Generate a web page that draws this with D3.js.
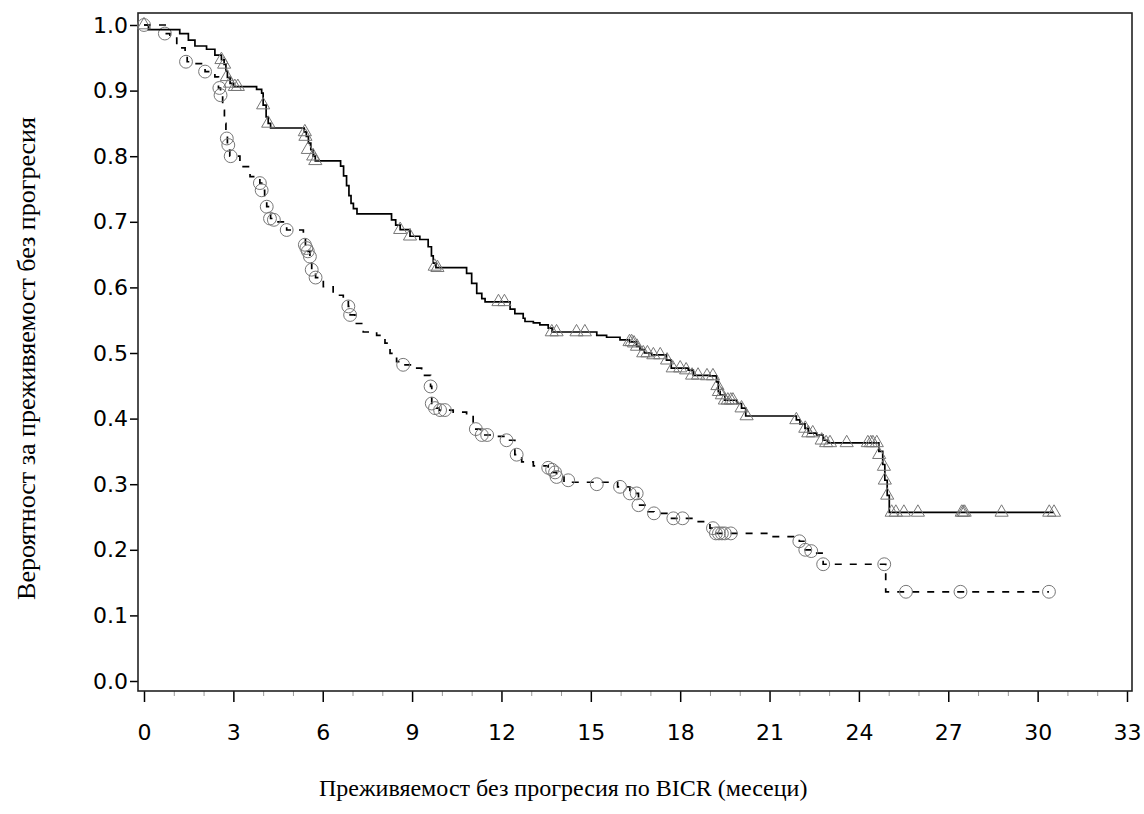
<!DOCTYPE html>
<html>
<head>
<meta charset="utf-8">
<script src="https://cdn.jsdelivr.net/npm/d3@7"></script>
<style>
  body { margin: 0; background: #fff; }
  svg { display: block; }
  .tick text { font-family: "DejaVu Sans", sans-serif; font-size: 22px; fill: #000; }
  .axis-title { font-family: "Liberation Serif", "Times New Roman", serif; fill: #000; }
</style>
</head>
<body>
<svg id="chart" width="1144" height="814"></svg>
<script>
// Kaplan-Meier steps (months, survival after step)
const armATimes = [0, 0.15, 1.2, 1.49, 1.71, 2.1, 2.38, 2.6, 2.69, 2.75, 2.8, 2.89, 3.0, 3.78, 3.95, 4.0, 4.1, 4.17, 4.25,
  5.38, 5.45, 5.52, 5.6, 5.68, 5.75, 6.6, 6.7, 6.8, 6.88, 6.95, 7.03, 7.15, 8.31, 8.45, 8.6, 8.93, 9.26, 9.54, 9.65, 9.71, 9.8,
  10.83, 11.0, 11.17, 11.34, 11.45, 12.29, 12.45, 12.73, 12.79, 13.07, 13.29, 13.57, 13.7, 15.2, 15.53, 15.98, 16.3, 16.54,
  16.65, 16.8, 17.04, 17.54, 17.7, 18.27, 18.44, 19.0, 19.22, 19.28, 19.34, 19.5, 19.9, 20.06, 20.2, 21.9, 22.02, 22.19, 22.3,
  22.58, 22.8, 22.95, 24.67, 24.8, 24.87, 24.95, 25.02, 30.55];
const armASurv = [1.0, 0.993, 0.987, 0.977, 0.968, 0.963, 0.954, 0.947, 0.94, 0.93, 0.92, 0.911, 0.906, 0.902, 0.896, 0.878, 0.86, 0.85, 0.843,
  0.837, 0.83, 0.82, 0.81, 0.80, 0.793, 0.785, 0.77, 0.755, 0.74, 0.728, 0.72, 0.712, 0.703, 0.695, 0.688, 0.678, 0.673, 0.662, 0.648, 0.637, 0.63,
  0.6215, 0.606, 0.591, 0.583, 0.578, 0.567, 0.56, 0.553, 0.548, 0.546, 0.543, 0.538, 0.532, 0.527, 0.524, 0.52, 0.517, 0.51,
  0.505, 0.5, 0.497, 0.489, 0.477, 0.474, 0.466, 0.465, 0.456, 0.441, 0.436, 0.428, 0.423, 0.416, 0.404, 0.398, 0.392, 0.385, 0.378,
  0.375, 0.367, 0.363, 0.35, 0.33, 0.306, 0.283, 0.257, 0.257];
const armACensT = [0, 2.6, 2.69, 2.78, 2.89, 3.05, 3.15, 4.0, 4.17, 5.4, 5.42, 5.5, 5.68, 5.75, 8.6, 8.93, 9.76, 9.85, 11.9, 12.1,
  13.69, 13.85, 14.52, 14.8, 16.3, 16.37, 16.45, 16.55, 16.76, 16.9, 17.1, 17.33, 17.56, 17.75, 18.0, 18.2, 18.4, 18.6, 18.9, 19.1,
  19.25, 19.3, 19.4, 19.5, 19.6, 19.7, 19.77, 20.06, 20.23, 21.9, 22.2, 22.3, 22.45, 22.75, 22.9, 23.03, 23.59, 24.3, 24.4, 24.47, 24.6,
  24.68, 24.84, 24.87, 24.95, 25.1, 25.24, 25.51, 25.98, 27.45, 27.5, 27.55, 28.79, 30.39, 30.55];
const armACensS = [1.0, 0.947, 0.94, 0.921, 0.911, 0.906, 0.906, 0.878, 0.85, 0.837, 0.83, 0.81, 0.80, 0.793, 0.688, 0.678, 0.632, 0.63, 0.578, 0.578,
  0.532, 0.532, 0.532, 0.532, 0.517, 0.517, 0.515, 0.51, 0.5, 0.5, 0.497, 0.497, 0.489, 0.477, 0.477, 0.474, 0.466, 0.466, 0.465, 0.465,
  0.45, 0.441, 0.436, 0.428, 0.428, 0.428, 0.428, 0.416, 0.404, 0.398, 0.385, 0.378, 0.378, 0.367, 0.363, 0.363, 0.363, 0.363, 0.363, 0.363, 0.363,
  0.345, 0.327, 0.306, 0.283, 0.257, 0.257, 0.257, 0.257, 0.257, 0.257, 0.257, 0.257, 0.257, 0.257];

const armBTimes = [0, 0.75, 0.87, 1.1, 1.38, 1.45, 1.6, 2.05, 2.38, 2.5, 2.57, 2.64, 2.7, 2.75, 2.8, 2.88, 3.22, 3.56, 3.89, 3.95,
  4.05, 4.12, 4.25, 4.5, 4.79, 5.35, 5.42, 5.5, 5.57, 5.63, 5.76, 6.02, 6.35, 6.69, 6.86, 6.92, 7.08, 7.36, 7.81, 8.09, 8.26, 8.48,
  8.7, 8.99, 9.32, 9.62, 9.66, 9.77, 9.9, 10.38, 10.83, 11.05, 11.14, 11.3, 11.78, 12.17, 12.45, 12.68, 13.07, 13.57, 13.7, 13.85,
  14.1, 15.9, 16.31, 16.6, 16.87, 17.12, 17.6, 18.44, 19.0, 19.2, 21.0, 22.0, 22.2, 22.4, 22.8, 24.9, 30.38];
const armBSurv = [1.0, 0.987, 0.98, 0.965, 0.952, 0.944, 0.941, 0.929, 0.921, 0.904, 0.893, 0.87, 0.85, 0.83, 0.817, 0.8, 0.784, 0.769, 0.759, 0.748,
  0.735, 0.723, 0.705, 0.7, 0.6875, 0.675, 0.665, 0.655, 0.647, 0.627, 0.615, 0.601, 0.588, 0.58, 0.571, 0.558, 0.545, 0.532, 0.527, 0.515, 0.4995, 0.487,
  0.482, 0.477, 0.466, 0.449, 0.423, 0.416, 0.413, 0.41, 0.405, 0.393, 0.384, 0.375, 0.373, 0.367, 0.345, 0.334, 0.328, 0.325, 0.318, 0.311,
  0.303, 0.296, 0.286, 0.268, 0.258, 0.2556, 0.248, 0.243, 0.233, 0.225, 0.22, 0.213, 0.2, 0.195, 0.178, 0.136, 0.136];
const armBCensT = [0, 0.7, 1.41, 2.05, 2.53, 2.57, 2.78, 2.83, 2.91, 3.89, 3.95, 4.12, 4.23, 4.36, 4.79, 5.4, 5.45, 5.5, 5.57, 5.63, 5.76,
  6.86, 6.92, 8.7, 9.62, 9.66, 9.77, 9.94, 10.1, 11.14, 11.34, 11.52, 12.17, 12.51, 13.57, 13.7, 13.8, 13.85, 14.24, 15.2, 15.98, 16.31,
  16.54, 16.6, 17.12, 17.77, 18.08, 19.1, 19.2, 19.3, 19.4, 19.5, 19.7, 22.0, 22.2, 22.4, 22.8, 24.85, 25.58, 27.41, 30.38];
const armBCensS = [1.0, 0.987, 0.944, 0.929, 0.904, 0.893, 0.827, 0.817, 0.8, 0.759, 0.748, 0.723, 0.705, 0.703, 0.6875, 0.665, 0.66, 0.655, 0.647, 0.627, 0.615,
  0.571, 0.558, 0.482, 0.449, 0.423, 0.416, 0.413, 0.413, 0.384, 0.375, 0.375, 0.367, 0.345, 0.325, 0.322, 0.318, 0.311, 0.306, 0.30, 0.296, 0.286,
  0.286, 0.268, 0.2556, 0.248, 0.248, 0.233, 0.225, 0.225, 0.225, 0.225, 0.225, 0.213, 0.2, 0.198, 0.178, 0.178, 0.136, 0.136, 0.136];

const xMajorTicks = [0, 3, 6, 9, 12, 15, 18, 21, 24, 27, 30, 33];
const yTicks = [0, 0.1, 0.2, 0.3, 0.4, 0.5, 0.6, 0.7, 0.8, 0.9, 1.0];
const xTitle = "Преживяемост без прогресия по BICR (месеци)";
const yTitle = "Вероятност за преживяемост без прогресия";

const svg = d3.select("#chart");
const frame = {left: 138, top: 13, right: 1132, bottom: 691};

const x = d3.scaleLinear().domain([0, 33]).range([144, 1127]);
const y = d3.scaleLinear().domain([0, 1]).range([681, 25]);

// axes
const minorTicks = d3.range(0, 34).filter(d => d % 3 !== 0);
svg.append("g")
    .attr("transform", `translate(0,${frame.bottom})`)
    .call(d3.axisBottom(x).tickValues(minorTicks).tickSize(5).tickFormat(""))
    .call(g => g.select(".domain").remove())
    .call(g => g.selectAll("line").attr("stroke", "#999").attr("stroke-width", 1));

svg.append("g")
    .attr("transform", `translate(0,${frame.bottom})`)
    .call(d3.axisBottom(x).tickValues(xMajorTicks).tickSize(11).tickPadding(22).tickFormat(d3.format("d")))
    .call(g => g.select(".domain").remove())
    .call(g => g.selectAll("line").attr("stroke", "#000").attr("stroke-width", 1.5));

svg.append("g")
    .attr("transform", `translate(${frame.left},0)`)
    .call(d3.axisLeft(y).tickValues(yTicks).tickSize(8).tickPadding(2).tickFormat(d3.format(".1f")))
    .call(g => g.select(".domain").remove())
    .call(g => g.selectAll("line").attr("stroke", "#000").attr("stroke-width", 1.5));

svg.append("rect")
    .attr("x", frame.left).attr("y", frame.top)
    .attr("width", frame.right - frame.left).attr("height", frame.bottom - frame.top)
    .attr("fill", "none").attr("stroke", "#222").attr("stroke-width", 1.6);

// titles
svg.append("text").attr("class", "axis-title")
    .attr("x", 319).attr("y", 796).style("font-size", "24px").text(xTitle);
svg.append("text").attr("class", "axis-title")
    .attr("transform", "translate(35,117) rotate(-90)").attr("text-anchor", "end")
    .style("font-size", "26px").text(yTitle);

// survival curves
const stepLine = d3.line().curve(d3.curveStepAfter).x(d => x(d[0])).y(d => y(d[1]));

function drawArm(times, surv, cT, cS, dashed, symbol) {
    svg.append("path")
        .datum(d3.zip(times, surv))
        .attr("d", stepLine)
        .attr("fill", "none")
        .attr("stroke", "#000")
        .attr("stroke-width", 1.7)
        .attr("stroke-dasharray", dashed ? "7,8" : null);

    svg.append("g").selectAll("path")
        .data(d3.zip(cT, cS))
        .join("path")
        .attr("transform", d => `translate(${x(d[0])},${y(d[1])})`)
        .attr("d", d3.symbol().type(symbol).size(symbol === d3.symbolCircle ? 130 : 75))
        .attr("fill", "none")
        .attr("stroke", "#777")
        .attr("stroke-width", 1);
}

drawArm(armBTimes, armBSurv, armBCensT, armBCensS, true, d3.symbolCircle);
drawArm(armATimes, armASurv, armACensT, armACensS, false, d3.symbolTriangle);
</script>
</body>
</html>
